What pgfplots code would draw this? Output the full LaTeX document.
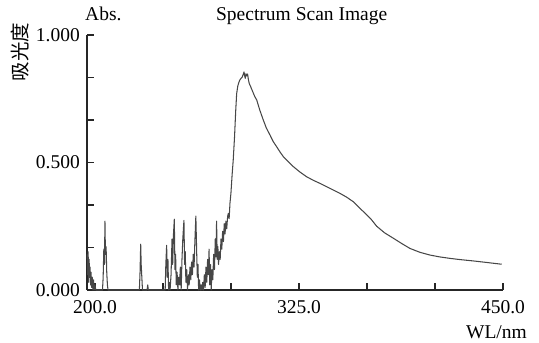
\documentclass[border=0pt]{standalone}
\usepackage{fontspec}
\setmainfont{Liberation Serif}
\newfontfamily\cjk{Noto Sans CJK SC}
\usepackage{pgfplots}
\pgfplotsset{compat=1.18}
\newcommand{\fs}{\fontsize{19.5bp}{23bp}\selectfont}
\begin{document}
\begin{tikzpicture}[font=\fs]
\useasboundingbox (0,0) rectangle (539bp,343bp);
\begin{axis}[
  at={(87bp,53bp)}, anchor=south west,
  scale only axis, width=416bp, height=255bp,
  xmin=195.1, xmax=450, ymin=0, ymax=1,
  axis x line*=bottom, axis y line*=left,
  axis line style={-, line width=1.2bp, black!85},
  tick align=inside, major tick length=7bp,
  tick style={line width=1.2bp, black!85},
  xtick={200,241.6667,283.3333,325,366.6667,408.3333,450},
  xticklabels={200.0,,,325.0,,,450.0},
  ytick={0,0.166667,0.333333,0.5,0.666667,0.833333,1},
  yticklabels={0.000,,,0.500,,,1.000},
  /pgf/number format/assume math mode=true,
  ticklabel style={font=\fs},
  xticklabel style={inner sep=0pt, yshift=-10bp},
  yticklabel style={inner sep=0pt, xshift=-7bp},
  clip=false,
]
\addplot[black!72, line width=1.05bp, mark=none, line join=round] coordinates {
(195.2,0.14)(195.5,0.06)(195.8,0.15)(196.1,0.03)(196.4,0.12)(196.7,0.05)(197.0,0.09)(197.3,0.02)(197.6,0.07)(197.9,0.01)(198.3,0.05)(198.7,0.00)(199.1,0.04)(199.5,0.00)(200.0,0.02)(200.5,0.00)
(204.6,0.00)(205.0,0.05)(205.4,0.16)(205.8,0.10)(206.1,0.27)(206.4,0.14)(206.8,0.17)(207.2,0.07)(207.6,0.02)(208.0,0.00)
(227.2,0.00)(227.6,0.07)(228.0,0.18)(228.3,0.10)(228.7,0.05)(229.1,0.00)
(231.9,0.00)(232.3,0.02)(232.7,0.00)
(243.0,0.00)(243.4,0.10)(243.9,0.175)(244.3,0.05)(244.7,0.12)(245.1,0.00)(245.6,0.03)(246.0,0.00)(246.6,0.06)(247.2,0.20)(247.6,0.10)(248.1,0.22)(248.6,0.278)(249.0,0.08)(249.4,0.14)(249.8,0.02)(250.3,0.07)(250.8,0.00)(251.3,0.05)(251.8,0.02)(252.3,0.09)(252.8,0.00)(253.3,0.12)(253.8,0.20)(254.5,0.273)(254.9,0.10)(255.3,0.15)(255.7,0.03)(256.2,0.08)(256.7,0.00)(257.2,0.06)(257.7,0.02)(258.2,0.09)(258.7,0.04)(259.2,0.11)(259.7,0.06)(260.2,0.14)(260.7,0.09)(261.2,0.19)(261.8,0.29)(262.3,0.15)(262.7,0.05)(263.1,0.10)(263.5,0.00)(264.0,0.04)(264.5,0.00)(265.0,0.02)(265.5,0.00)(266.0,0.03)(266.5,0.00)(267.0,0.06)(267.5,0.01)(268.0,0.09)(268.5,0.03)(269.0,0.12)(269.5,0.06)(269.9,0.16)(270.3,0.02)(270.8,0.10)(271.2,0.00)(271.7,0.08)(272.2,0.04)(272.7,0.14)(273.2,0.08)(273.7,0.20)(274.1,0.13)(274.5,0.27)(274.9,0.12)(275.3,0.17)(275.7,0.10)(276.2,0.15)(276.7,0.12)(277.2,0.20)(277.7,0.16)(278.2,0.23)(278.7,0.19)(279.2,0.26)(279.7,0.22)(280.2,0.27)(280.7,0.24)(281.3,0.29)(281.7,0.30)(282.2,0.28)(282.7,0.34)(283.3,0.38)(284.0,0.45)(284.7,0.51)(285.5,0.60)(286.2,0.70)(286.8,0.77)(287.5,0.80)(288.2,0.815)(288.8,0.824)(289.5,0.83)(290.2,0.835)(290.8,0.845)(291.3,0.855)(291.7,0.84)(292.1,0.83)(292.5,0.848)(293.0,0.84)(293.5,0.847)(294.0,0.825)(294.5,0.81)(295.4,0.797)(296.5,0.78)(297.8,0.76)(299.1,0.745)(301.0,0.705)(303.1,0.667)(305.0,0.635)(307.2,0.608)(309.2,0.582)(311.3,0.562)(313.4,0.541)(315.4,0.523)(318.5,0.503)(321.5,0.484)(325.5,0.463)(329.7,0.444)(333.8,0.430)(337.9,0.418)(342.0,0.405)(346.0,0.392)(350.1,0.379)(354.2,0.364)(358.3,0.346)(362.4,0.320)(366.0,0.298)(369.5,0.275)(372.6,0.250)(377.5,0.224)(382.8,0.203)(388.0,0.182)(393.0,0.163)(399.0,0.148)(405.3,0.137)(411.0,0.130)(417.5,0.124)(424.0,0.119)(431.8,0.114)(440.0,0.108)(449.2,0.101)
};
\end{axis}
\node[anchor=base west, inner sep=0pt] at (85bp,322.5bp) {Abs.};
\node[anchor=base, inner sep=0pt] at (301.7bp,322.5bp) {Spectrum Scan Image};
\node[anchor=base east, inner sep=0pt] at (527bp,5bp) {WL/nm};
\node[rotate=90, inner sep=0pt] at (20bp,291bp) {\cjk 吸光度};
\end{tikzpicture}
\end{document}
